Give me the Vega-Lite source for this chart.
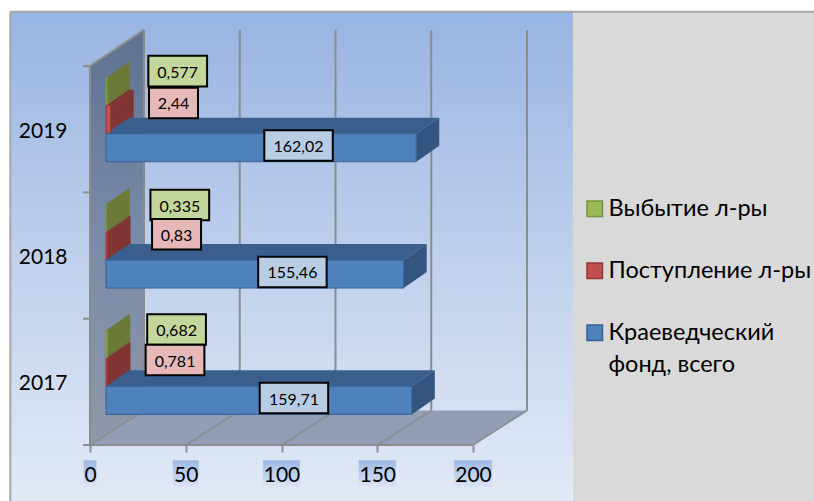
{"$schema":"https://vega.github.io/schema/vega-lite/v6.json","width":814,"height":501,"padding":0,"autosize":{"type":"none"},"background":"#ffffff",
"config":{"view":{"stroke":null},"font":"Lato","style":{"guide-label":{"lineHeight":32}}},
"resolve":{"axis":{"x":"independent","y":"independent"}},
"data":{"values":[
{"year":2019,"series":"Выбытие л-ры","value":0.577,"labelX":45.8,"labelY":2019.46},
{"year":2019,"series":"Поступление л-ры","value":2.44,"labelX":43.6,"labelY":2019.208},
{"year":2019,"series":"Краеведческий фонд, всего","value":162.02,"labelX":108.9,"labelY":2018.871},
{"year":2018,"series":"Выбытие л-ры","value":0.335,"labelX":46.9,"labelY":2018.4},
{"year":2018,"series":"Поступление л-ры","value":0.83,"labelX":45.2,"labelY":2018.169},
{"year":2018,"series":"Краеведческий фонд, всего","value":155.46,"labelX":105.7,"labelY":2017.87},
{"year":2017,"series":"Выбытие л-ры","value":0.682,"labelX":45.2,"labelY":2017.415},
{"year":2017,"series":"Поступление л-ры","value":0.781,"labelX":44.4,"labelY":2017.173},
{"year":2017,"series":"Краеведческий фонд, всего","value":159.71,"labelX":106.5,"labelY":2016.872}
]},
"layer":[
{"data":{"values":[{"x0":-41.25,"x1":252.2,"y0":2016.05,"y1":2019.93}]},
 "mark":{"type":"rect","fill":{"gradient":"linear","x1":0,"y1":0,"x2":0,"y2":1,"stops":[{"offset":0,"color":"#98B4E2"},{"offset":0.5,"color":"#BFD0EC"},{"offset":1,"color":"#E2E9F6"}]}},
 "encoding":{"x":{"field":"x0","type":"quantitative","scale":{"domain":[-47,378.07],"nice":false,"zero":false},"axis":null},"x2":{"field":"x1"},"y":{"field":"y0","type":"quantitative","scale":{"domain":[2016.057,2020.023],"nice":false,"zero":false},"axis":null},"y2":{"field":"y1"}}},
{"data":{"values":[{"x0":252.2,"x1":378.07,"y0":2016.05,"y1":2019.93}]},
 "mark":{"type":"rect","fill":"#D9D9D9"},
 "encoding":{"x":{"field":"x0","type":"quantitative","scale":{"domain":[-47,378.07],"nice":false,"zero":false},"axis":null},"x2":{"field":"x1"},"y":{"field":"y0","type":"quantitative","scale":{"domain":[2016.057,2020.023],"nice":false,"zero":false},"axis":null},"y2":{"field":"y1"}}},
{"data":{"values":[{"x0":-41.6,"x1":378.07,"y0":2019.93,"y1":2019.93},{"x0":-41.6,"x1":-41.6,"y0":2016.05,"y1":2019.93}]},
 "mark":{"type":"rule","stroke":"#A6A6A6","strokeWidth":2},
 "encoding":{"x":{"field":"x0","type":"quantitative","scale":{"domain":[-47,378.07],"nice":false,"zero":false},"axis":null},"x2":{"field":"x1"},"y":{"field":"y0","type":"quantitative","scale":{"domain":[2016.057,2020.023],"nice":false,"zero":false},"axis":null},"y2":{"field":"y1"}}},
{"data":{"values":[{"o":0,"x":0,"y":2016.5},{"o":1,"x":200,"y":2016.5},{"o":2,"x":228.2,"y":2016.773},{"o":3,"x":28.2,"y":2016.773}]},
 "mark":{"type":"line","fill":"#929EB6","strokeWidth":0},
 "encoding":{"x":{"field":"x","type":"quantitative","scale":{"domain":[-47,378.07],"nice":false,"zero":false},"axis":null},"y":{"field":"y","type":"quantitative","scale":{"domain":[2016.057,2020.023],"nice":false,"zero":false},"axis":null},"order":{"field":"o"}}},
{"data":{"values":[{"o":0,"x":0,"y":2016.5},{"o":1,"x":0,"y":2019.5},{"o":2,"x":28.2,"y":2019.786},{"o":3,"x":28.2,"y":2016.773}]},
 "mark":{"type":"line","strokeWidth":0,"fill":{"gradient":"linear","x1":0,"y1":0,"x2":0,"y2":1,"stops":[{"offset":0,"color":"#5F7191"},{"offset":0.5,"color":"#7A8BA9"},{"offset":1,"color":"#8F96A8"}]}},
 "encoding":{"x":{"field":"x","type":"quantitative","scale":{"domain":[-47,378.07],"nice":false,"zero":false},"axis":null},"y":{"field":"y","type":"quantitative","scale":{"domain":[2016.057,2020.023],"nice":false,"zero":false},"axis":null},"order":{"field":"o"}}},
{"data":{"values":[{"tick":0},{"tick":50},{"tick":100},{"tick":150},{"tick":200}]},
 "transform":[{"calculate":"datum.tick+28.2","as":"back"},{"calculate":"2016.773","as":"yb"},{"calculate":"2019.786","as":"yt"}],
 "mark":{"type":"rule","stroke":"#8C8C8C","strokeWidth":2},
 "encoding":{"x":{"field":"back","type":"quantitative","scale":{"domain":[-47,378.07],"nice":false,"zero":false},"axis":null},"y":{"field":"yb","type":"quantitative","scale":{"domain":[2016.057,2020.023],"nice":false,"zero":false},"axis":null},"y2":{"field":"yt"}}},
{"data":{"values":[{"tick":0},{"tick":50},{"tick":100},{"tick":150},{"tick":200}]},
 "transform":[{"calculate":"datum.tick+28.2","as":"back"},{"calculate":"2016.5","as":"yf"},{"calculate":"2016.773","as":"yb"}],
 "mark":{"type":"rule","stroke":"#8C8C8C","strokeWidth":1.5},
 "encoding":{"x":{"field":"tick","type":"quantitative","scale":{"domain":[-47,378.07],"nice":false,"zero":false},"axis":null},"x2":{"field":"back"},"y":{"field":"yf","type":"quantitative","scale":{"domain":[2016.057,2020.023],"nice":false,"zero":false},"axis":null},"y2":{"field":"yb"}}},
{"data":{"values":[{"x0":0,"x1":200,"y0":2016.5,"y1":2016.5},{"x0":0,"x1":0,"y0":2016.5,"y1":2019.5},{"x0":0,"x1":28.2,"y0":2019.5,"y1":2019.786},{"x0":-3.65,"x1":0,"y0":2016.5,"y1":2016.5},{"x0":-3.65,"x1":0,"y0":2017.5,"y1":2017.5},{"x0":-3.65,"x1":0,"y0":2018.5,"y1":2018.5},{"x0":-3.65,"x1":0,"y0":2019.5,"y1":2019.5}]},
 "mark":{"type":"rule","stroke":"#8C8C8C","strokeWidth":2},
 "encoding":{"x":{"field":"x0","type":"quantitative","scale":{"domain":[-47,378.07],"nice":false,"zero":false},"axis":null},"x2":{"field":"x1"},"y":{"field":"y0","type":"quantitative","scale":{"domain":[2016.057,2020.023],"nice":false,"zero":false},"axis":null},"y2":{"field":"y1"}}},
{"transform":[
 {"calculate":"datum.series==='Краеведческий фонд, всего'?0:datum.series==='Поступление л-ры'?1:2","as":"k"},
 {"calculate":"datum.year-0.2573+datum.k*0.2217","as":"yBot"},
 {"calculate":"datum.yBot+0.2217","as":"yTop"},
 {"calculate":"8.35","as":"x0"},
 {"calculate":"datum.value+8.35","as":"x1"},
 {"calculate":"['top','side']","as":"face"},{"flatten":["face"]},
 {"calculate":"[0,1,2,3]","as":"v"},{"flatten":["v"]},
 {"calculate":"datum.face==='top'?(datum.v==0?datum.x0:datum.v==1?datum.x1:datum.v==2?datum.x1+12:datum.x0+12):(datum.v==0||datum.v==3?datum.x1:datum.x1+12)","as":"vx"},
 {"calculate":"datum.face==='top'?(datum.v<2?datum.yTop:datum.yTop+0.1267):(datum.v==0?datum.yTop:datum.v==1?datum.yTop+0.1267:datum.v==2?datum.yBot+0.1267:datum.yBot)","as":"vy"},
 {"calculate":"datum.series+' '+datum.face","as":"shade"},
 {"calculate":"datum.year+' '+datum.series+' '+datum.face","as":"poly"}],
 "mark":{"type":"line","strokeWidth":0},
 "encoding":{"x":{"field":"vx","type":"quantitative","scale":{"domain":[-47,378.07],"nice":false,"zero":false},"axis":null},"y":{"field":"vy","type":"quantitative","scale":{"domain":[2016.057,2020.023],"nice":false,"zero":false},"axis":null},"order":{"field":"v"},"detail":{"field":"poly"},
  "fill":{"field":"shade","type":"nominal","legend":null,"scale":{"domain":["Краеведческий фонд, всего top","Краеведческий фонд, всего side","Поступление л-ры top","Поступление л-ры side","Выбытие л-ры top","Выбытие л-ры side","Выбытие л-ры label","Поступление л-ры label","Краеведческий фонд, всего label"],"range":["#3A5F8C","#33557F","#7E3331","#823434","#6A7A36","#6B7B37","#C3D69B","#E6B9B8","#B8CCE4"]}}}},
{"transform":[
 {"calculate":"datum.series==='Краеведческий фонд, всего'?0:datum.series==='Поступление л-ры'?1:2","as":"k"},
 {"calculate":"datum.year-0.2573+datum.k*0.2217","as":"yBot"},
 {"calculate":"datum.yBot+0.2217","as":"yTop"},
 {"calculate":"8.35","as":"x0"},
 {"calculate":"datum.value+8.35","as":"x1"}],
 "mark":{"type":"rect","strokeWidth":1},
 "encoding":{"x":{"field":"x0","type":"quantitative","scale":{"domain":[-47,378.07],"nice":false,"zero":false},"axis":null},"x2":{"field":"x1"},"y":{"field":"yBot","type":"quantitative","scale":{"domain":[2016.057,2020.023],"nice":false,"zero":false},"axis":null},"y2":{"field":"yTop"},
  "color":{"field":"series","type":"nominal","scale":{"domain":["Выбытие л-ры","Поступление л-ры","Краеведческий фонд, всего"],"range":["#9BBB59","#C0504D","#4F81BD"]},
   "legend":{"orient":"none","legendX":583,"legendY":197,"title":null,"symbolType":"square","symbolSize":240,"symbolStrokeWidth":1.5,"symbolOpacity":1,"labelFontSize":23.5,"labelFont":"Lato","labelColor":"#000000","labelLimit":300,"labelOffset":2,"rowPadding":37,"labelExpr":"datum.label==='Краеведческий фонд, всего'?['Краеведческий','фонд, всего']:datum.label"}},
  "stroke":{"field":"series","type":"nominal","scale":{"domain":["Выбытие л-ры","Поступление л-ры","Краеведческий фонд, всего"],"range":["#76923C","#953735","#376092"]}}}},
{"transform":[
 {"calculate":"replace(toString(datum.value),'.',',')","as":"txt"},
 {"calculate":"5.09*length(datum.txt)+5.22","as":"w"},
 {"calculate":"datum.labelX-datum.w/2","as":"bx0"},{"calculate":"datum.labelX+datum.w/2","as":"bx1"},
 {"calculate":"datum.labelY-0.1208","as":"by0"},{"calculate":"datum.labelY+0.1208","as":"by1"},
 {"calculate":"datum.series+' label'","as":"shade"}],
 "mark":{"type":"rect","stroke":"#000000","strokeWidth":2},
 "encoding":{"x":{"field":"bx0","type":"quantitative","scale":{"domain":[-47,378.07],"nice":false,"zero":false},"axis":null},"x2":{"field":"bx1"},"y":{"field":"by0","type":"quantitative","scale":{"domain":[2016.057,2020.023],"nice":false,"zero":false},"axis":null},"y2":{"field":"by1"},
  "fill":{"field":"shade","type":"nominal","legend":null,"scale":{"domain":["Краеведческий фонд, всего top","Краеведческий фонд, всего side","Поступление л-ры top","Поступление л-ры side","Выбытие л-ры top","Выбытие л-ры side","Выбытие л-ры label","Поступление л-ры label","Краеведческий фонд, всего label"],"range":["#3A5F8C","#33557F","#7E3331","#823434","#6A7A36","#6B7B37","#C3D69B","#E6B9B8","#B8CCE4"]}}}},
{"transform":[{"calculate":"replace(toString(datum.value),'.',',')","as":"txt"}],
 "mark":{"type":"text","font":"Lato","fontSize":16,"color":"#000000","align":"center","baseline":"middle","dy":1.5},
 "encoding":{"x":{"field":"labelX","type":"quantitative","scale":{"domain":[-47,378.07],"nice":false,"zero":false},"axis":null},"y":{"field":"labelY","type":"quantitative","scale":{"domain":[2016.057,2020.023],"nice":false,"zero":false},"axis":null},"text":{"field":"txt"}}},
{"data":{"values":[{"tick":0,"hw":3.4},{"tick":50,"hw":6.8},{"tick":100,"hw":9.7},{"tick":150,"hw":9.7},{"tick":200,"hw":9.9}]},
 "transform":[{"calculate":"datum.tick-datum.hw","as":"lx0"},{"calculate":"datum.tick+datum.hw","as":"lx1"},{"calculate":"2016.379","as":"ly0"},{"calculate":"2016.167","as":"ly1"}],
 "mark":{"type":"rect","fill":{"gradient":"linear","x1":0,"y1":0,"x2":0,"y2":1,"stops":[{"offset":0,"color":"#9DB9E6"},{"offset":1,"color":"#DDE5F4"}]}},
 "encoding":{"x":{"field":"lx0","type":"quantitative","scale":{"domain":[-47,378.07],"nice":false,"zero":false},
   "axis":{"values":[0,50,100,150,200],"offset":-56,"domain":false,"grid":false,"tickSize":7,"tickColor":"#8C8C8C","tickWidth":2,"labelFontSize":21,"labelFont":"Lato","labelColor":"#000000","labelPadding":12,"title":null,"zindex":1,"labelFlush":false,"labelOverlap":false}},
  "x2":{"field":"lx1"},
  "y":{"field":"ly0","type":"quantitative","scale":{"domain":[2016.057,2020.023],"nice":false,"zero":false},
   "axis":{"values":[2017,2018,2019],"format":"d","orient":"left","offset":-67,"domain":false,"grid":false,"ticks":false,"labelFontSize":21,"labelFont":"Lato","labelColor":"#000000","labelPadding":0,"labelOffset":2,"title":null,"zindex":1,"labelFlush":false,"labelOverlap":false}},
  "y2":{"field":"ly1"}}}
]}
